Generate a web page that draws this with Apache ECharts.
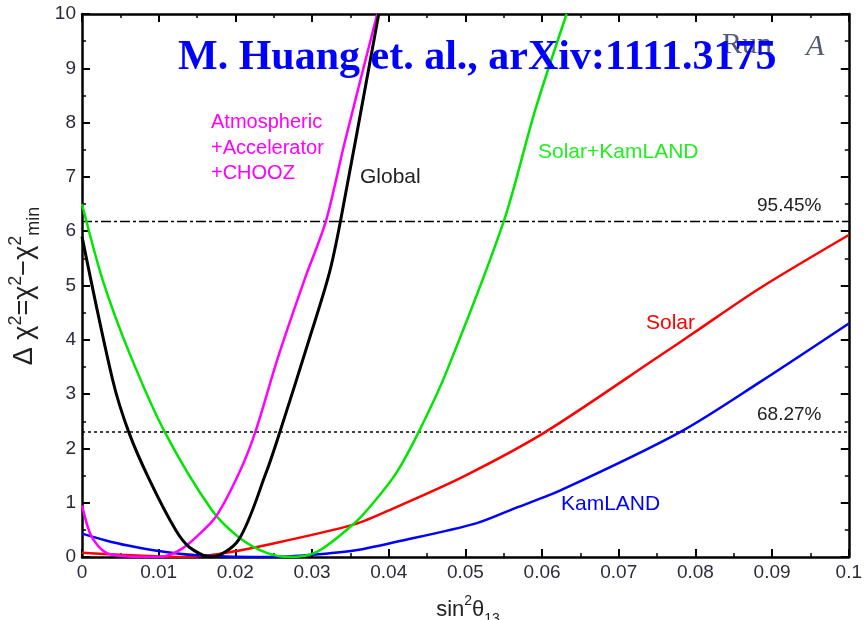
<!DOCTYPE html>
<html>
<head>
<meta charset="utf-8">
<script src="https://cdn.jsdelivr.net/npm/echarts@6/dist/echarts.min.js"></script>
<style>
html,body{margin:0;padding:0;background:#fff;}
#chart{width:865px;height:620px;}
</style>
</head>
<body>
<div id="chart"></div>
<script>
// delta chi^2 vs sin^2(theta13), points as [x, dchi2]
var solar = [[0,0.08],[0.005,0.04],[0.01,0.01],[0.014,0],[0.018,0.06],[0.023,0.19],[0.0355,0.6],
  [0.041,0.92],[0.05,1.5],[0.0604,2.3],[0.0755,3.72],[0.0797,4.12],[0.0884,4.95],[0.1,5.93]];
var kamland = [[0,0.43],[0.003,0.31],[0.006,0.21],[0.01,0.11],[0.015,0.03],[0.02,0.005],[0.025,0],
  [0.03,0.04],[0.0355,0.12],[0.041,0.28],[0.0514,0.62],[0.0565,0.9],[0.0626,1.24],[0.078,2.3],
  [0.0884,3.22],[0.1,4.3]];
var solarKam = [[0,6.5],[0.0027,5.1],[0.0062,3.75],[0.0108,2.3],[0.0169,0.87],[0.0204,0.37],
  [0.024,0.08],[0.027,0],[0.0307,0.1],[0.0355,0.62],[0.038,1.0],[0.041,1.55],[0.0439,2.3],
  [0.0475,3.4],[0.055,6.18],[0.0591,8.23],[0.0632,10]];
var atmAcc = [[0,0.95],[0.001,0.45],[0.002,0.22],[0.003,0.09],[0.004,0.04],[0.006,0.01],[0.009,0],
  [0.011,0.02],[0.013,0.15],[0.015,0.38],[0.0175,0.75],[0.0205,1.55],[0.0226,2.3],[0.0255,3.65],
  [0.029,5.1],[0.0318,6.18],[0.0342,7.6],[0.0385,10]];
var global = [[0,5.9],[0.004,3.26],[0.0061,2.3],[0.0088,1.42],[0.0122,0.5],[0.014,0.18],[0.0168,0],
  [0.0204,0.31],[0.024,1.55],[0.0258,2.3],[0.0295,3.95],[0.0322,5.2],[0.0337,6.18],[0.0387,10]];
var levels = [2.3, 6.18];
var levelNames = ['68.27%', '95.45%'];

var chart = echarts.init(document.getElementById('chart'));
var sans = 'Liberation Sans';

function curve(name, data, color, width) {
  return {
    name: name, type: 'line', data: data, smooth: 0.3,
    symbol: 'none', lineStyle: {color: color, width: width}, z: 3
  };
}
function level(i, dash) {
  return {
    name: levelNames[i], type: 'line', data: [[0, levels[i]], [0.1, levels[i]]],
    symbol: 'none', lineStyle: {color: '#000', width: 1.5, type: dash}, z: 2
  };
}
function axisX(pos, labels) {
  return {
    type: 'value', min: 0, max: 0.1, interval: 0.01, position: pos,
    axisLine: {show: true, onZero: false, lineStyle: {color: '#000', width: 2.5}},
    axisTick: {show: true, inside: true, length: 8, lineStyle: {color: '#000', width: 2}},
    minorTick: {show: true, splitNumber: 2, length: 4, lineStyle: {color: '#000', width: 1.5}},
    splitLine: {show: false},
    axisLabel: {show: labels, color: '#2b2b3b', fontSize: 19, fontFamily: sans, margin: 6,
      formatter: function (v) { return v === 0 ? '0' : String(+v.toFixed(2)); }}
  };
}
function axisY(pos, labels) {
  return {
    type: 'value', min: 0, max: 10, interval: 1, position: pos,
    axisLine: {show: true, onZero: false, lineStyle: {color: '#000', width: 2.5}},
    axisTick: {show: true, inside: true, length: 8, lineStyle: {color: '#000', width: 2}},
    minorTick: {show: true, splitNumber: 2, length: 4, lineStyle: {color: '#000', width: 1.5}},
    splitLine: {show: false},
    axisLabel: {show: labels, color: '#2b2b3b', fontSize: 19, fontFamily: sans, margin: 6}
  };
}
function label(txt, x, y, color, size) {
  return {type: 'text', x: x, y: y, z: 10, style: {text: txt, fill: color,
    font: size + 'px "Liberation Sans"', textAlign: 'left', textVerticalAlign: 'middle'}};
}

chart.setOption({
  animation: false,
  grid: {left: 82, right: 8, top: 14, bottom: 63, containLabel: false},
  xAxis: [axisX('bottom', true), axisX('top', false)],
  yAxis: [axisY('left', true), axisY('right', false)],
  series: [
    level(0, [3, 3]),
    level(1, [10, 3, 3, 3]),
    curve('Solar', solar, '#ff0000', 2.5),
    curve('KamLAND', kamland, '#0000ff', 2.5),
    curve('Solar+KamLAND', solarKam, '#00e600', 2.5),
    curve('Atmospheric+Accelerator+CHOOZ', atmAcc, '#ff00ff', 2.5),
    curve('Global', global, '#000000', 3)
  ],
  graphic: [
    label('Atmospheric', 211, 122, '#ff00ff', 20),
    label('+Accelerator', 211, 148, '#ff00ff', 20),
    label('+CHOOZ', 211, 173, '#ff00ff', 20),
    label('Global', 360, 177, '#222', 21),
    label('Solar+KamLAND', 538, 152, '#22ee22', 21),
    label('95.45%', 757, 206, '#222', 19),
    label('68.27%', 757, 415, '#222', 19),
    label('Solar', 646, 323, '#ff0000', 21),
    label('KamLAND', 561, 504, '#0000ff', 21),
    {type: 'text', x: 722, y: 45, z: 9, style: {text: 'Run', fill: '#555a70',
      font: '30px "Liberation Serif"', textAlign: 'left', textVerticalAlign: 'middle'}},
    {type: 'text', x: 806, y: 47, z: 9, style: {text: 'A', fill: '#555a70',
      font: 'italic 30px "Liberation Serif"', textAlign: 'left', textVerticalAlign: 'middle'}},
    {type: 'text', x: 178, y: 58, z: 11, style: {text: 'M. Huang et. al., arXiv:1111.3175',
      fill: '#0000ff', font: 'bold 42px "Liberation Serif"', textAlign: 'left', textVerticalAlign: 'middle'}},
    {type: 'text', x: 468, y: 610, z: 10, style: {
      text: '{a|sin}{s|2}{a|θ}{b|13}', textAlign: 'center', textVerticalAlign: 'middle',
      rich: {
        a: {fontSize: 22, fontFamily: sans, fill: '#222', lineHeight: 32, verticalAlign: 'middle'},
        s: {fontSize: 14, fontFamily: sans, fill: '#222', lineHeight: 14, verticalAlign: 'top'},
        b: {fontSize: 14, fontFamily: sans, fill: '#222', lineHeight: 14, verticalAlign: 'bottom'}
      }}},
    {type: 'text', x: 25, y: 286, rotation: Math.PI / 2, z: 10, style: {
      text: '{a|Δ χ}{s|2}{a|=χ}{s|2}{a|−χ}{s|2}{b|min}', textAlign: 'center', textVerticalAlign: 'middle',
      rich: {
        a: {fontSize: 27, fontFamily: sans, fill: '#222', lineHeight: 36, verticalAlign: 'middle'},
        s: {fontSize: 18, fontFamily: sans, fill: '#222', lineHeight: 17, verticalAlign: 'top'},
        b: {fontSize: 18, fontFamily: sans, fill: '#222', lineHeight: 17, verticalAlign: 'bottom'}
      }}}
  ]
});
</script>
</body>
</html>
